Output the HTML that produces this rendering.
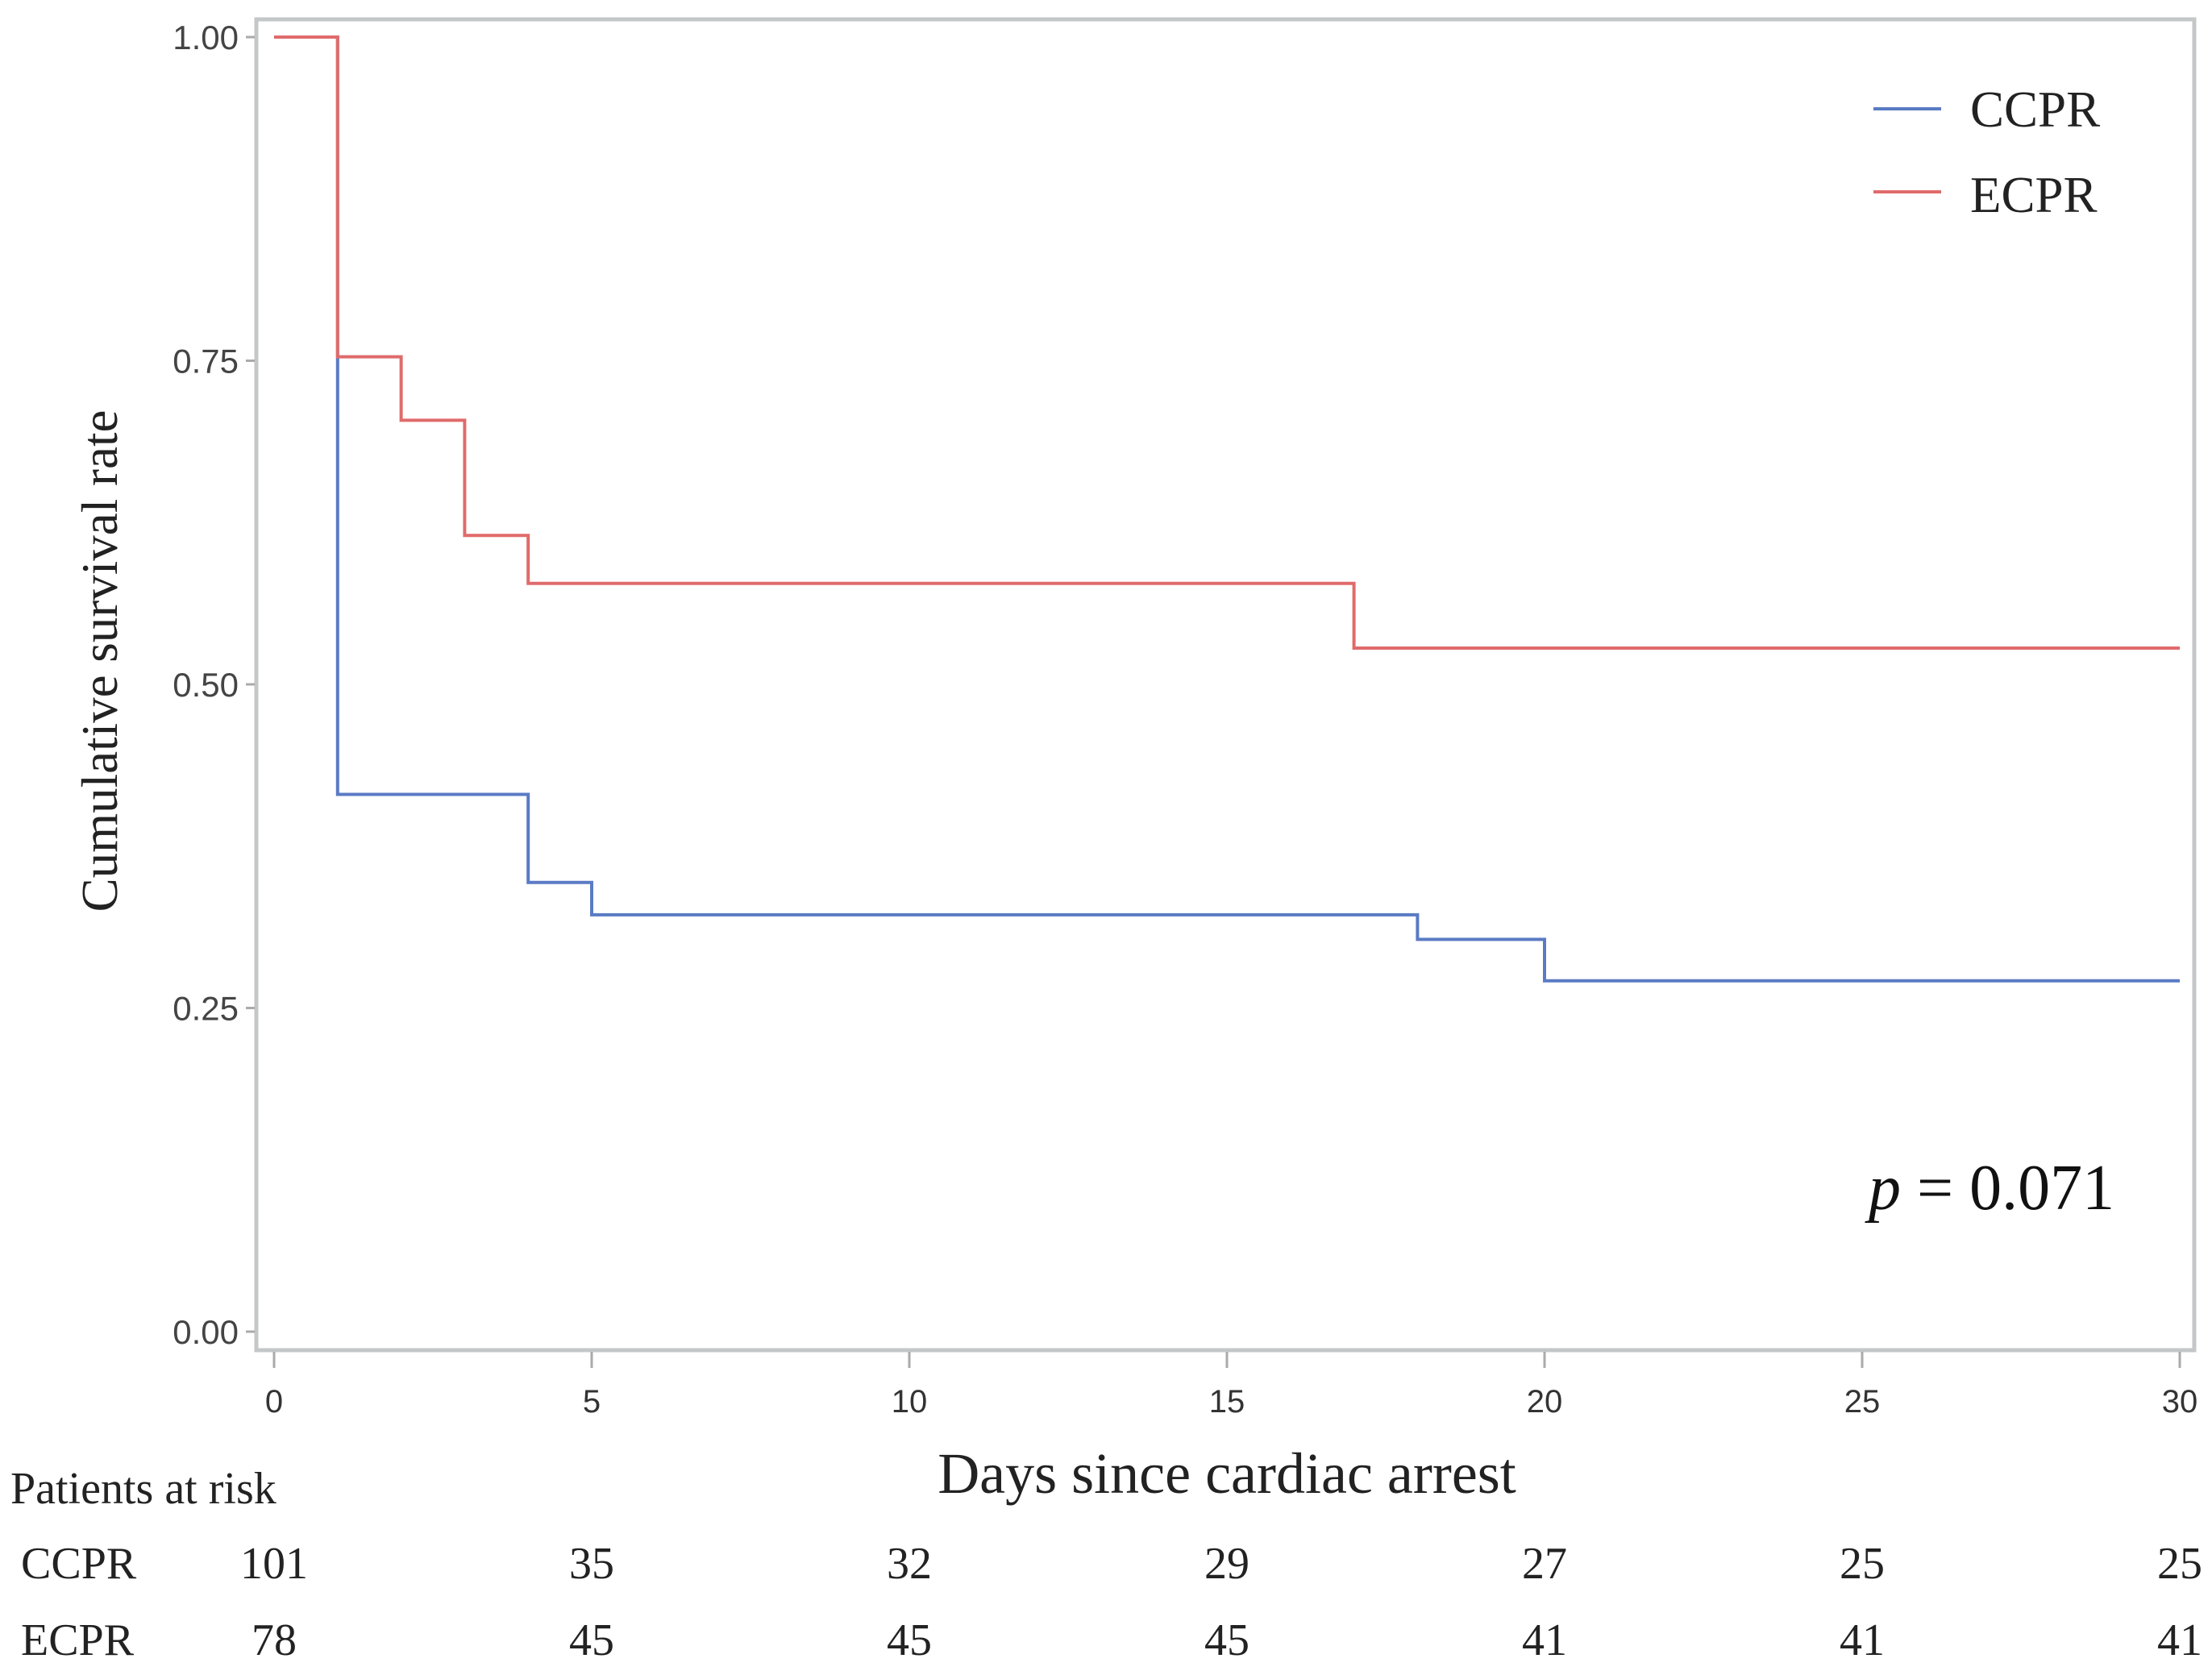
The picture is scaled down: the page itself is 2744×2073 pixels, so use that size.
<!DOCTYPE html>
<html><head><meta charset="utf-8"><style>
html,body{margin:0;padding:0;background:#fff;}
svg{display:block;}
</style></head><body>
<svg id="chart" width="2744" height="2073" viewBox="0 0 2744 2073" xmlns="http://www.w3.org/2000/svg">
<rect x="0" y="0" width="2744" height="2073" fill="#fff"/>
<g id="frame"></g>
<g id="curves"></g>
<g id="ticks"></g>
<g id="legend">
  <line x1="2324" y1="135" x2="2408" y2="135" stroke="#5a7bc4" stroke-width="4"/>
  <text x="2444" y="157" font-family="Liberation Serif, serif" font-size="63" fill="#222">CCPR</text>
  <line x1="2324" y1="238" x2="2408" y2="238" stroke="#e06b6b" stroke-width="4"/>
  <text x="2444" y="263" font-family="Liberation Serif, serif" font-size="63" fill="#222">ECPR</text>
</g>
<text x="2318" y="1500" font-family="Liberation Serif, serif" font-size="80" fill="#111"><tspan font-style="italic">p</tspan> = 0.071</text>
<text transform="translate(145,820) rotate(-90)" text-anchor="middle" font-family="Liberation Serif, serif" font-size="63" fill="#222">Cumulative survival rate</text>
<text x="1522" y="1852" text-anchor="middle" font-family="Liberation Serif, serif" font-size="72" fill="#222">Days since cardiac arrest</text>
<g id="risk">
  <text x="13" y="1865" font-family="Liberation Serif, serif" font-size="56" fill="#222">Patients at risk</text>
  <text x="26" y="1958" font-family="Liberation Serif, serif" font-size="56" fill="#222">CCPR</text>
  <text x="26" y="2053" font-family="Liberation Serif, serif" font-size="56" fill="#222">ECPR</text>
</g>
<script>
const xTicks = [0, 5, 10, 15, 20, 25, 30];
const yTicks = [0, 0.25, 0.5, 0.75, 1.0];
const yTickLabels = ["0.00", "0.25", "0.50", "0.75", "1.00"];
const ccprTimes = [0, 1, 4, 5, 18, 20, 30];
const ccprSurv = [1.0, 0.415, 0.347, 0.322, 0.303, 0.271, 0.271];
const ecprTimes = [0, 1, 2, 3, 4, 17, 30];
const ecprSurv = [1.0, 0.753, 0.704, 0.615, 0.578, 0.528, 0.528];
const riskCcpr = [101, 35, 32, 29, 27, 25, 25];
const riskEcpr = [78, 45, 45, 45, 41, 41, 41];

const NS = "http://www.w3.org/2000/svg";
const X0 = 340, X1 = 2704, Y1 = 46, Y0 = 1652;
function xs(d){ return X0 + (d - 0) / 30 * (X1 - X0); }
function ys(v){ return Y0 - v * (Y0 - Y1); }
function mk(tag, attrs, parent){
  const e = document.createElementNS(NS, tag);
  for (const k in attrs) e.setAttribute(k, attrs[k]);
  parent.appendChild(e); return e;
}
const frame = document.getElementById('frame');
const fr = mk('rect', {x:318, y:24, width:2404, height:1651, fill:'none', stroke:'#c3c7c7', 'stroke-width':5}, frame);



const ticks = document.getElementById('ticks');
xTicks.forEach((t, i) => {
  const l = mk('line', {x1:xs(t), y1:1677, x2:xs(t), y2:1697, stroke:'#aaa', 'stroke-width':3}, ticks);
  
  
  const tx = mk('text', {x:xs(t), y:1752, 'text-anchor':'middle', 'font-family':'Liberation Sans Narrow, Liberation Sans, sans-serif', 'font-size':40, fill:'#333'}, ticks);
  tx.textContent = String(t);
  
  
  const r1 = mk('text', {x:xs(t), y:1958, 'text-anchor':'middle', 'font-family':'Liberation Serif, serif', 'font-size':56, fill:'#222'}, ticks);
  r1.textContent = String(riskCcpr[i]);
  
  
  const r2 = mk('text', {x:xs(t), y:2053, 'text-anchor':'middle', 'font-family':'Liberation Serif, serif', 'font-size':56, fill:'#222'}, ticks);
  r2.textContent = String(riskEcpr[i]);
  
  
});
yTicks.forEach((v, i) => {
  const l = mk('line', {x1:305, y1:ys(v), x2:316, y2:ys(v), stroke:'#aaa', 'stroke-width':3}, ticks);
  
  
  const tx = mk('text', {x:296, y:ys(v) + 15, 'text-anchor':'end', 'font-family':'Liberation Sans Narrow, Liberation Sans, sans-serif', 'font-size':42, fill:'#444'}, ticks);
  tx.textContent = yTickLabels[i];
  
  
});

const curves = document.getElementById('curves');
function stepPath(times, surv){
  let d = 'M' + xs(times[0]) + ',' + ys(surv[0]);
  for (let i = 1; i < times.length; i++){
    d += ' L' + xs(times[i]) + ',' + ys(surv[i-1]) + ' L' + xs(times[i]) + ',' + ys(surv[i]);
  }
  return d;
}
const pc = mk('path', {d:stepPath(ccprTimes, ccprSurv), fill:'none', stroke:'#5a7bc4', 'stroke-width':4}, curves);


const pe = mk('path', {d:stepPath(ecprTimes, ecprSurv), fill:'none', stroke:'#e06b6b', 'stroke-width':4}, curves);


</script>
</svg>
</body></html>
